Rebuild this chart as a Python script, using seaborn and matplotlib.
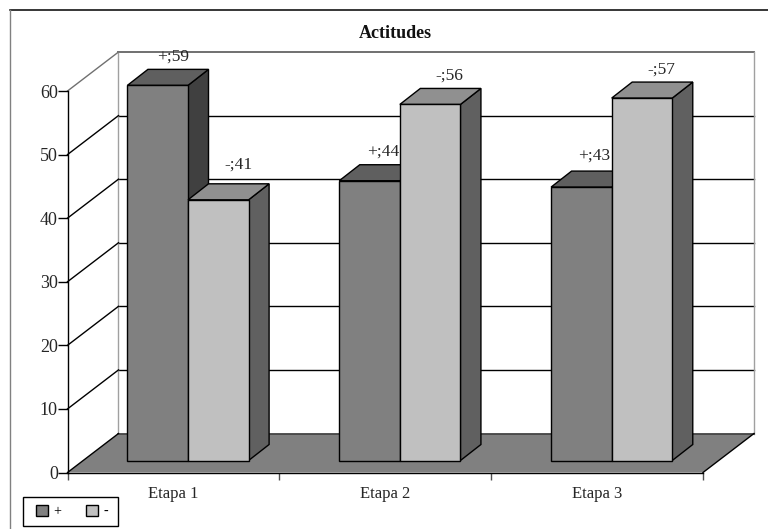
# plot.py
# 3D looking bar chart "Actitudes", front faces from seaborn, depth faces added by hand

import matplotlib
matplotlib.use("Agg")
import matplotlib.pyplot as plt
from matplotlib.patches import Polygon, Rectangle
import pandas as pd
import seaborn as sns

# ---------- DATA ----------
etapas = ["Etapa 1", "Etapa 2", "Etapa 3"]
signos = ["+", "-"]
valores_mas = [59, 44, 43]
valores_menos = [41, 56, 57]
yticks = [0, 10, 20, 30, 40, 50, 60]

# ---------- LAYOUT (pixels) ----------
W, H = 768, 529
AX_L, AX_R, AX_Y0, AX_Y60 = 67.5, 703, 472.5, 91
WALL_DX, WALL_DY = 51, 39      # floor depth
BAR_DX, BAR_DY = 14.6, 12      # gap floor front -> bar front
DEPTH_DX, DEPTH_DY = 20.5, 16  # bar depth

COL_FRONT = {"+": "#808080", "-": "#C0C0C0"}
COL_TOP = {"+": "#5F5F5F", "-": "#909090"}
COL_SIDE = {"+": "#404040", "-": "#606060"}
# nudge of the value labels in pixels, (+ bars then - bars)
NUDGE = [(-5, 9), (-7, 9), (-8, 11), (0, 15), (-1, 9), (-1, 8)]

plt.rcParams["font.family"] = ["Liberation Serif", "DejaVu Serif"]
TEXT = "#262626"


def add_axes_px(fig, left, right, bottom, top):
    return fig.add_axes([left / W, (H - bottom) / H, (right - left) / W, (bottom - top) / H])


df = pd.DataFrame({
    "etapa": etapas * 2,
    "signo": [signos[0]] * 3 + [signos[1]] * 3,
    "valor": valores_mas + valores_menos,
})

fig = plt.figure(figsize=(W / 100, H / 100), dpi=100)

# outer frame
fig.add_artist(plt.Line2D([10 / W, 1], [1 - 9.5 / H, 1 - 9.5 / H], transform=fig.transFigure, color="black", lw=1.1))
fig.add_artist(plt.Line2D([10 / W, 10 / W], [1 - 9.5 / H, 0], transform=fig.transFigure, color="#808080", lw=1))

# ---------- AXIS + WALLS ----------
ax = add_axes_px(fig, AX_L, AX_R, AX_Y0, AX_Y60)
ax.set_xlim(-0.5, 2.5)
ax.set_ylim(0, 60)
ax.patch.set_alpha(0)
sns.despine(ax=ax, top=True, right=True)
ax.spines["left"].set_linewidth(1)
ax.spines["bottom"].set_linewidth(1)

unit_x = (AX_R - AX_L) / 3
unit_y = (AX_Y0 - AX_Y60) / 60
wall_dx = WALL_DX / unit_x
wall_dy = WALL_DY / unit_y

floor = [(-0.5, 0), (2.5, 0), (2.5 + wall_dx, wall_dy), (-0.5 + wall_dx, wall_dy)]
ax.add_patch(Polygon(floor, closed=True, facecolor="#808080", edgecolor="none", clip_on=False, zorder=1))
ax.plot([-0.5 + wall_dx, 2.5 + wall_dx], [wall_dy, wall_dy], color="#404040", lw=1.2, clip_on=False, zorder=1.5)
ax.plot([2.5, 2.5 + wall_dx], [0, wall_dy], color="black", lw=1, clip_on=False, zorder=1.5)

for yt in yticks:
    col = "#707070" if yt == 60 else "black"
    ax.plot([-0.5, -0.5 + wall_dx], [yt, yt + wall_dy], color=col, lw=1, clip_on=False, zorder=1.5)
    if yt > 0:
        ax.plot([-0.5 + wall_dx, 2.5 + wall_dx], [yt + wall_dy, yt + wall_dy], color=col,
                lw=1.4 if yt == 60 else 1, clip_on=False, zorder=1)
for x_wall in [-0.5 + wall_dx, 2.5 + wall_dx]:
    ax.plot([x_wall, x_wall], [wall_dy, 60 + wall_dy], color="#A0A0A0", lw=1, clip_on=False, zorder=1)

ax.set_yticks(yticks)
ax.set_xticks([-0.5, 0.5, 1.5, 2.5])
ax.set_xticklabels([])
ax.tick_params(axis="y", length=7, width=1, pad=0, labelsize=13, labelcolor=TEXT)
ax.tick_params(axis="x", length=5, width=1, color="#505050")
for i, et in enumerate(etapas):
    ax.annotate(et, (i, 0), xytext=(0, -21), xycoords="data", textcoords="offset pixels",
                ha="center", va="center", fontsize=12, color=TEXT)

# ---------- BARS ----------
ax_b = add_axes_px(fig, AX_L + BAR_DX, AX_R + BAR_DX, AX_Y0 - BAR_DY, AX_Y60 - BAR_DY)
ax_b.patch.set_alpha(0)
sns.barplot(data=df, x="etapa", y="valor", hue="signo", order=etapas, hue_order=signos,
            palette=COL_FRONT, width=0.572, gap=0, saturation=1, edgecolor="black",
            linewidth=1, ax=ax_b)
ax_b.set_xlim(-0.5, 2.5)
ax_b.set_ylim(0, 60)
ax_b.axis("off")

handles, labels = ax_b.get_legend_handles_labels()
ax_b.get_legend().remove()

depth_x = DEPTH_DX / unit_x
depth_y = DEPTH_DY / unit_y

barras = []
for signo, cont in zip(signos, ax_b.containers):
    for bar in cont:
        barras.append((bar.get_x(), signo, bar))
barras_orden = sorted(barras, key=lambda b: b[0])

for k, (x0, signo, bar) in enumerate(barras_orden):
    x1 = x0 + bar.get_width()
    h = bar.get_height()
    z = 3 + k
    bar.set_zorder(z + 0.5)
    bar.set_clip_on(False)
    side = [(x1, 0), (x1 + depth_x, depth_y), (x1 + depth_x, h + depth_y), (x1, h)]
    top = [(x0, h), (x1, h), (x1 + depth_x, h + depth_y), (x0 + depth_x, h + depth_y)]
    ax_b.add_patch(Polygon(side, closed=True, facecolor=COL_SIDE[signo], edgecolor="black", lw=1, clip_on=False, zorder=z))
    ax_b.add_patch(Polygon(top, closed=True, facecolor=COL_TOP[signo], edgecolor="black", lw=1, clip_on=False, zorder=z))

# value labels
n = 0
for signo, cont in zip(signos, ax_b.containers):
    for bar in cont:
        xc = bar.get_x() + bar.get_width() / 2 + depth_x
        yc = bar.get_height() + depth_y
        ax_b.annotate(f"{signo};{bar.get_height():.0f}", (xc, yc),
                      xytext=(NUDGE[n][0], NUDGE[n][1]), textcoords="offset pixels",
                      ha="center", va="baseline", fontsize=12.5, color=TEXT, zorder=20,
                      annotation_clip=False)
        n += 1

# ---------- TITLE + LEGEND ----------
fig.text(395 / W, 1 - 33 / H, "Actitudes", ha="center", va="center",
         fontsize=13, fontweight="bold", color="#111111")

# legend box sits under the axes, the legend itself is frameless
fig.add_artist(Rectangle((23 / W, 1 - 526 / H), 95 / W, 29 / H, transform=fig.transFigure,
                         facecolor="white", edgecolor="black", lw=1, zorder=-1))
ley = ax_b.legend(handles, labels, ncol=2, loc="center left",
                  bbox_to_anchor=(36 / W, 1 - 511.5 / H), bbox_transform=fig.transFigure,
                  frameon=False, fontsize=10, borderaxespad=0, borderpad=0,
                  handlelength=0.85, handleheight=0.85, handletextpad=0.4, columnspacing=1.8)
ley.set_zorder(30)

fig.savefig("out.png", dpi=100)
